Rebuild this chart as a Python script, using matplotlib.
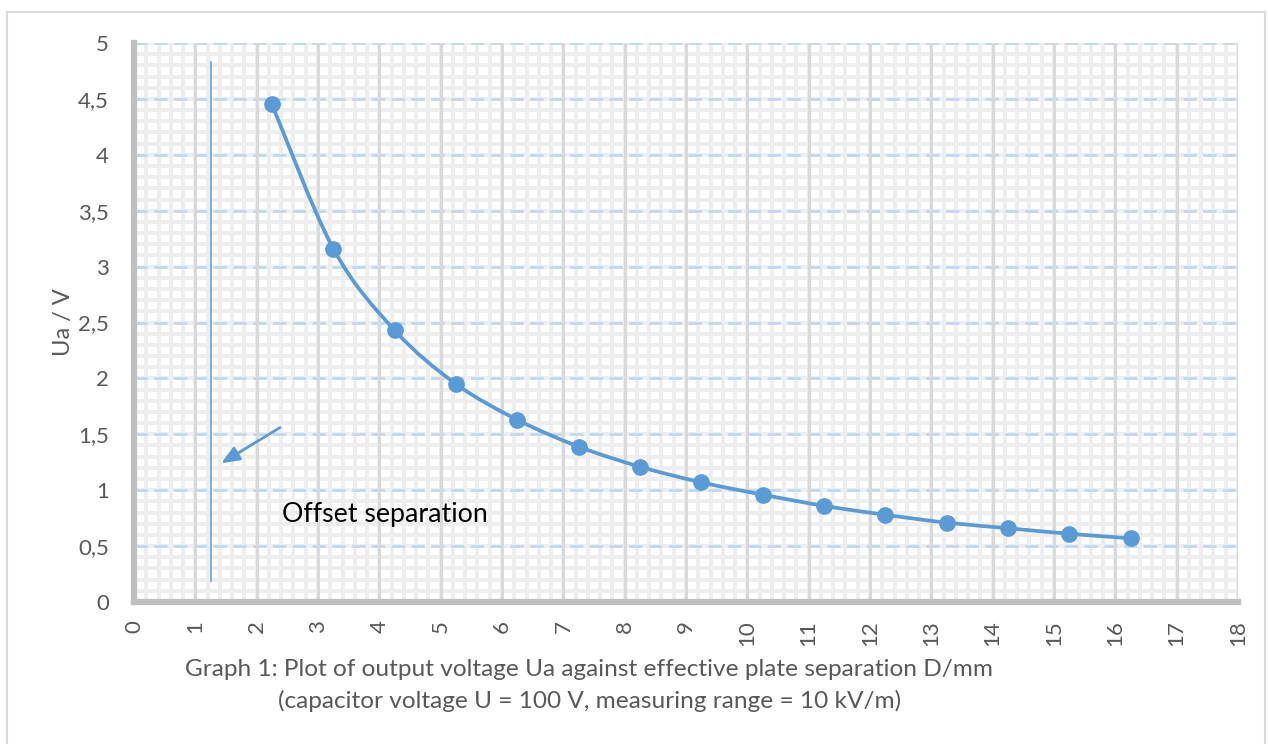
import numpy as np
import matplotlib.pyplot as plt
from matplotlib.path import Path
from matplotlib.patches import PathPatch
from matplotlib.lines import Line2D

# data
separation = [2.25, 3.25, 4.25, 5.25, 6.25, 7.25, 8.25, 9.25, 10.25, 11.25,
              12.25, 13.25, 14.25, 15.25, 16.25]
voltage = [4.45, 3.16, 2.43, 1.95, 1.63, 1.39, 1.21, 1.07, 0.96, 0.86,
           0.78, 0.71, 0.66, 0.61, 0.57]
x_ticks = list(range(0, 19))
y_ticks = [0, 0.5, 1, 1.5, 2, 2.5, 3, 3.5, 4, 4.5, 5]
y_labels = ["0", "0,5", "1", "1,5", "2", "2,5", "3", "3,5", "4", "4,5", "5"]
offset_x = 1.25
offset_y = (0.19, 4.83)

blue = "#5b9bd5"
gray_txt = "#595959"
plt.rcParams['font.family'] = ['Lato', 'DejaVu Sans']

fig = plt.figure(figsize=(12.68, 7.44), dpi=100)
ax = fig.add_axes([134 / 1268, 142 / 744, (1238 - 134) / 1268, (602 - 43) / 744])

ax.set_xlim(0, 18)
ax.set_ylim(0, 5)

# minor grid (light gray blocks)
for v in np.arange(0, 18.01, 0.2):
    ax.axvline(v, color="#eeeeee", lw=2.8, zorder=0)
for v in np.arange(0, 5.01, 0.1):
    ax.axhline(v, color="#eeeeee", lw=2.8, zorder=0)
# major grid
for v in y_ticks[1:]:
    ax.axhline(v, color="#bdd7ee", lw=1.9, ls=(0, (5, 2.5)), zorder=1)
for v in x_ticks[1:]:
    ax.axvline(v, color="#d9d9d9", lw=2.2, zorder=1)

for side in ["top", "right"]:
    ax.spines[side].set_visible(False)
for side in ["left", "bottom"]:
    ax.spines[side].set_color("#bfbfbf")
    ax.spines[side].set_linewidth(4.5)

ax.set_xticks(x_ticks)
ax.set_xticklabels([str(t) for t in x_ticks], rotation=90)
ax.set_yticks(y_ticks)
ax.set_yticklabels(y_labels)
ax.tick_params(length=0, labelsize=16, labelcolor=gray_txt)
ax.tick_params(axis="y", pad=18)
ax.tick_params(axis="x", pad=13)
ax.set_ylabel("Ua / V", fontsize=17, color=gray_txt, labelpad=3)

# smoothed curve through the points (Catmull-Rom as cubic Bezier)
pts = np.column_stack([separation, voltage])
verts = [tuple(pts[0])]
codes = [Path.MOVETO]
n = len(pts)
for i in range(n - 1):
    p0 = pts[max(i - 1, 0)]
    p1 = pts[i]
    p2 = pts[i + 1]
    p3 = pts[min(i + 2, n - 1)]
    c1 = p1 + (p2 - p0) / 6
    c2 = p2 - (p3 - p1) / 6
    verts += [tuple(c1), tuple(c2), tuple(p2)]
    codes += [Path.CURVE4] * 3
ax.add_patch(PathPatch(Path(verts, codes), fill=False, edgecolor=blue, lw=2.7, zorder=3))
ax.plot(separation, voltage, ls="none", marker="o", ms=11, color=blue, zorder=4)

# offset marker
ax.plot([offset_x, offset_x], offset_y, color=blue, lw=1.1, zorder=3)
ax.annotate("", xy=(1.42, 1.24), xytext=(2.38, 1.56),
            arrowprops=dict(arrowstyle="-|>,head_length=1.1,head_width=0.45",
                            color=blue, lw=2.0, shrinkA=0, shrinkB=0))
ax.text(2.41, 0.78, "Offset separation", fontsize=19.3, color="black",
        va="center", ha="left", zorder=5)

# caption
fig.text(589 / 1268, 1 - 669 / 744, "Graph 1: Plot of output voltage Ua against effective plate separation D/mm",
         ha="center", va="center", fontsize=17.6, color=gray_txt)
fig.text(590 / 1268, 1 - 701 / 744, "(capacitor voltage U = 100 V, measuring range = 10 kV/m)",
         ha="center", va="center", fontsize=17.6, color=gray_txt)

# chart frame
fig.add_artist(Line2D([7 / 1268, 7 / 1268], [0, 1 - 12 / 744], color="#d9d9d9", lw=1.5))
fig.add_artist(Line2D([7 / 1268, 1265 / 1268], [1 - 12 / 744, 1 - 12 / 744], color="#d9d9d9", lw=1.5))
fig.add_artist(Line2D([1265 / 1268, 1265 / 1268], [0, 1 - 12 / 744], color="#d9d9d9", lw=1.5))

fig.savefig("out.png", dpi=100)
